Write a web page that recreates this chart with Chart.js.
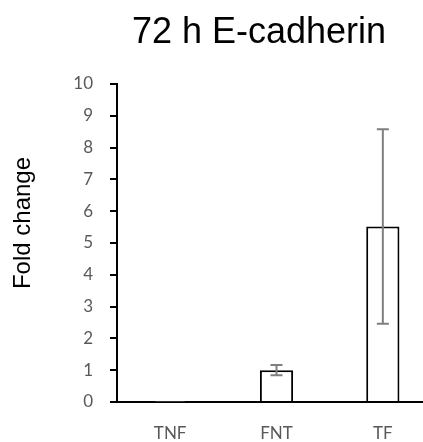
<!DOCTYPE html>
<html lang="en">
<head>
    <meta charset="UTF-8">
    <title>72 h E-cadherin</title>
    <script src="https://cdn.jsdelivr.net/npm/chart.js"></script>
    <style>
        body { margin: 0; overflow: hidden; background: #fff; }
        canvas { display: block; }
    </style>
</head>
<body>
<canvas id="chart" width="518" height="442"></canvas>

<script>
    // values
    const categories = ["TNF", "FNT", "TF"];
    const foldChange = [0.01, 1.0, 5.52];
    const errors = [0, 0.16, 3.06];

    const tickFont = { family: "Lato, 'Open Sans', sans-serif", size: 17 };
    const tickColor = "#595959";
    const titleText = "72 h E-cadherin";
    const yTitleText = "Fold change";

    // draws the +/- error whiskers on each bar
    const errorBars = {
        id: "errorBars",
        afterDatasetsDraw(chart) {
            const ctx = chart.ctx;
            const yScale = chart.scales.y;
            const meta = chart.getDatasetMeta(0);
            ctx.save();
            ctx.strokeStyle = "#7f7f7f";
            ctx.lineWidth = 2;
            meta.data.forEach((bar, i) => {
                if (!errors[i]) return;
                const x = bar.x;
                const top = yScale.getPixelForValue(foldChange[i] + errors[i]);
                const bottom = yScale.getPixelForValue(foldChange[i] - errors[i]);
                const cap = 6;
                ctx.beginPath();
                ctx.moveTo(x, top);
                ctx.lineTo(x, bottom);
                ctx.moveTo(x - cap, top);
                ctx.lineTo(x + cap, top);
                ctx.moveTo(x - cap, bottom);
                ctx.lineTo(x + cap, bottom);
                ctx.stroke();
            });
            ctx.restore();
        }
    };

    // titles placed like the Excel original (which was wider and cropped)
    const titles = {
        id: "titles",
        afterDraw(chart) {
            const ctx = chart.ctx;
            ctx.save();
            ctx.fillStyle = "#000";
            ctx.textAlign = "center";
            ctx.textBaseline = "alphabetic";
            ctx.font = "36px 'Liberation Sans', Arial, sans-serif";
            ctx.fillText(titleText, chart.width / 2, 43);
            ctx.translate(30, 223);
            ctx.rotate(-Math.PI / 2);
            ctx.font = "24px 'Liberation Sans', Arial, sans-serif";
            ctx.fillText(yTitleText, 0, 0);
            ctx.restore();
        }
    };

    new Chart(document.getElementById("chart"), {
        type: "bar",
        data: {
            labels: categories,
            datasets: [{
                data: foldChange,
                backgroundColor: "#ffffff",
                borderColor: "#000000",
                borderWidth: 2,
                borderSkipped: "bottom",
                categoryPercentage: 1,
                barPercentage: 0.3125
            }]
        },
        options: {
            responsive: false,
            animation: false,
            layout: { padding: { left: 0, right: 82, top: 84, bottom: 0 } },
            plugins: {
                legend: { display: false },
                tooltip: { enabled: false },
                title: { display: false }
            },
            scales: {
                x: {
                    grid: { display: false },
                    border: { display: true, color: "#000", width: 2 },
                    ticks: { color: tickColor, font: tickFont, padding: 13 },
                    afterFit(scale) { scale.height = 40; }
                },
                y: {
                    min: 0,
                    max: 10,
                    grid: {
                        display: true,
                        drawOnChartArea: false,
                        drawTicks: true,
                        tickLength: 7,
                        color: "#000",
                        lineWidth: 2
                    },
                    border: { display: true, color: "#000", width: 2 },
                    ticks: { stepSize: 1, color: tickColor, font: tickFont, padding: 17 },
                    afterFit(scale) { scale.width = 117; }
                }
            }
        },
        plugins: [errorBars, titles]
    });
</script>
</body>
</html>
